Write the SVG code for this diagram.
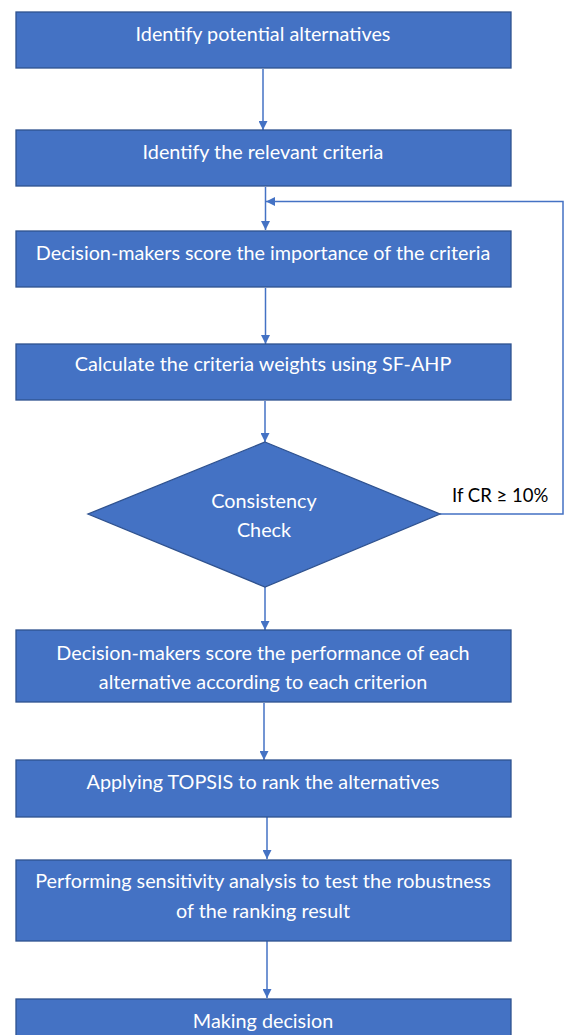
<svg xmlns="http://www.w3.org/2000/svg" width="565" height="1035" viewBox="0 0 565 1035">
<style>
.box{fill:#4472C4;stroke:#2F528F;stroke-width:1.3}
.t{fill:#fff;font-family:Lato,"Open Sans",sans-serif;font-size:19.8px;text-anchor:middle}
.lbl{fill:#000;font-family:Lato,"Open Sans",sans-serif;font-size:18.5px}
.c{fill:none;stroke:#4472C4;stroke-width:1.5}
</style>
<defs>
<marker id="ah" viewBox="0 0 10 10" refX="10" refY="5" markerWidth="6" markerHeight="6" orient="auto" markerUnits="strokeWidth">
<path d="M0,0 L10,5 L0,10 z" fill="#4472C4"/>
</marker>
</defs>
<rect width="565" height="1035" fill="#fff"/>
<g id="connectors">
<line class="c" x1="263" y1="69" x2="263" y2="130" marker-end="url(#ah)"/>
<line class="c" x1="265.5" y1="187" x2="265.5" y2="230" marker-end="url(#ah)"/>
<polyline class="c" points="440,514 563,514 563,201.5 266,201.5" marker-end="url(#ah)"/>
<line class="c" x1="265.5" y1="288" x2="265.5" y2="344" marker-end="url(#ah)"/>
<line class="c" x1="265" y1="401" x2="265" y2="442" marker-end="url(#ah)"/>
<line class="c" x1="265" y1="587" x2="265" y2="630" marker-end="url(#ah)"/>
<line class="c" x1="264" y1="703" x2="264" y2="760" marker-end="url(#ah)"/>
<line class="c" x1="267" y1="817" x2="267" y2="859" marker-end="url(#ah)"/>
<line class="c" x1="267" y1="941" x2="267" y2="998" marker-end="url(#ah)"/>
<text class="lbl" x="452" y="502">If CR ≥ 10%</text>
</g>
<g id="n1"><rect class="box" x="16" y="12" width="495" height="56"/><text class="t" x="263" y="40.5">Identify potential alternatives</text></g>
<g id="n2"><rect class="box" x="16" y="130" width="495" height="56"/><text class="t" x="263" y="158.5">Identify the relevant criteria</text></g>
<g id="n3"><rect class="box" x="16" y="231" width="495" height="56"/><text class="t" x="263" y="260">Decision-makers score the importance of the criteria</text></g>
<g id="n4"><rect class="box" x="16" y="344" width="495" height="56"/><text class="t" x="263" y="371">Calculate the criteria weights using SF-AHP</text></g>
<g id="n5"><polygon class="box" points="265,442 440,514 265,587 88,514"/><text class="t" x="264" y="508">Consistency</text><text class="t" x="264" y="537">Check</text></g>
<g id="n6"><rect class="box" x="16" y="630" width="495" height="72"/><text class="t" x="263" y="659.5">Decision-makers score the performance of each</text><text class="t" x="263" y="689">alternative according to each criterion</text></g>
<g id="n7"><rect class="box" x="16" y="760" width="495" height="57"/><text class="t" x="263" y="789">Applying TOPSIS to rank the alternatives</text></g>
<g id="n8"><rect class="box" x="16" y="860" width="495" height="81"/><text class="t" x="263" y="888">Performing sensitivity analysis to test the robustness</text><text class="t" x="263" y="918">of the ranking result</text></g>
<g id="n9"><rect class="box" x="16" y="999" width="495" height="50"/><text class="t" x="263" y="1028">Making decision</text></g>
</svg>
